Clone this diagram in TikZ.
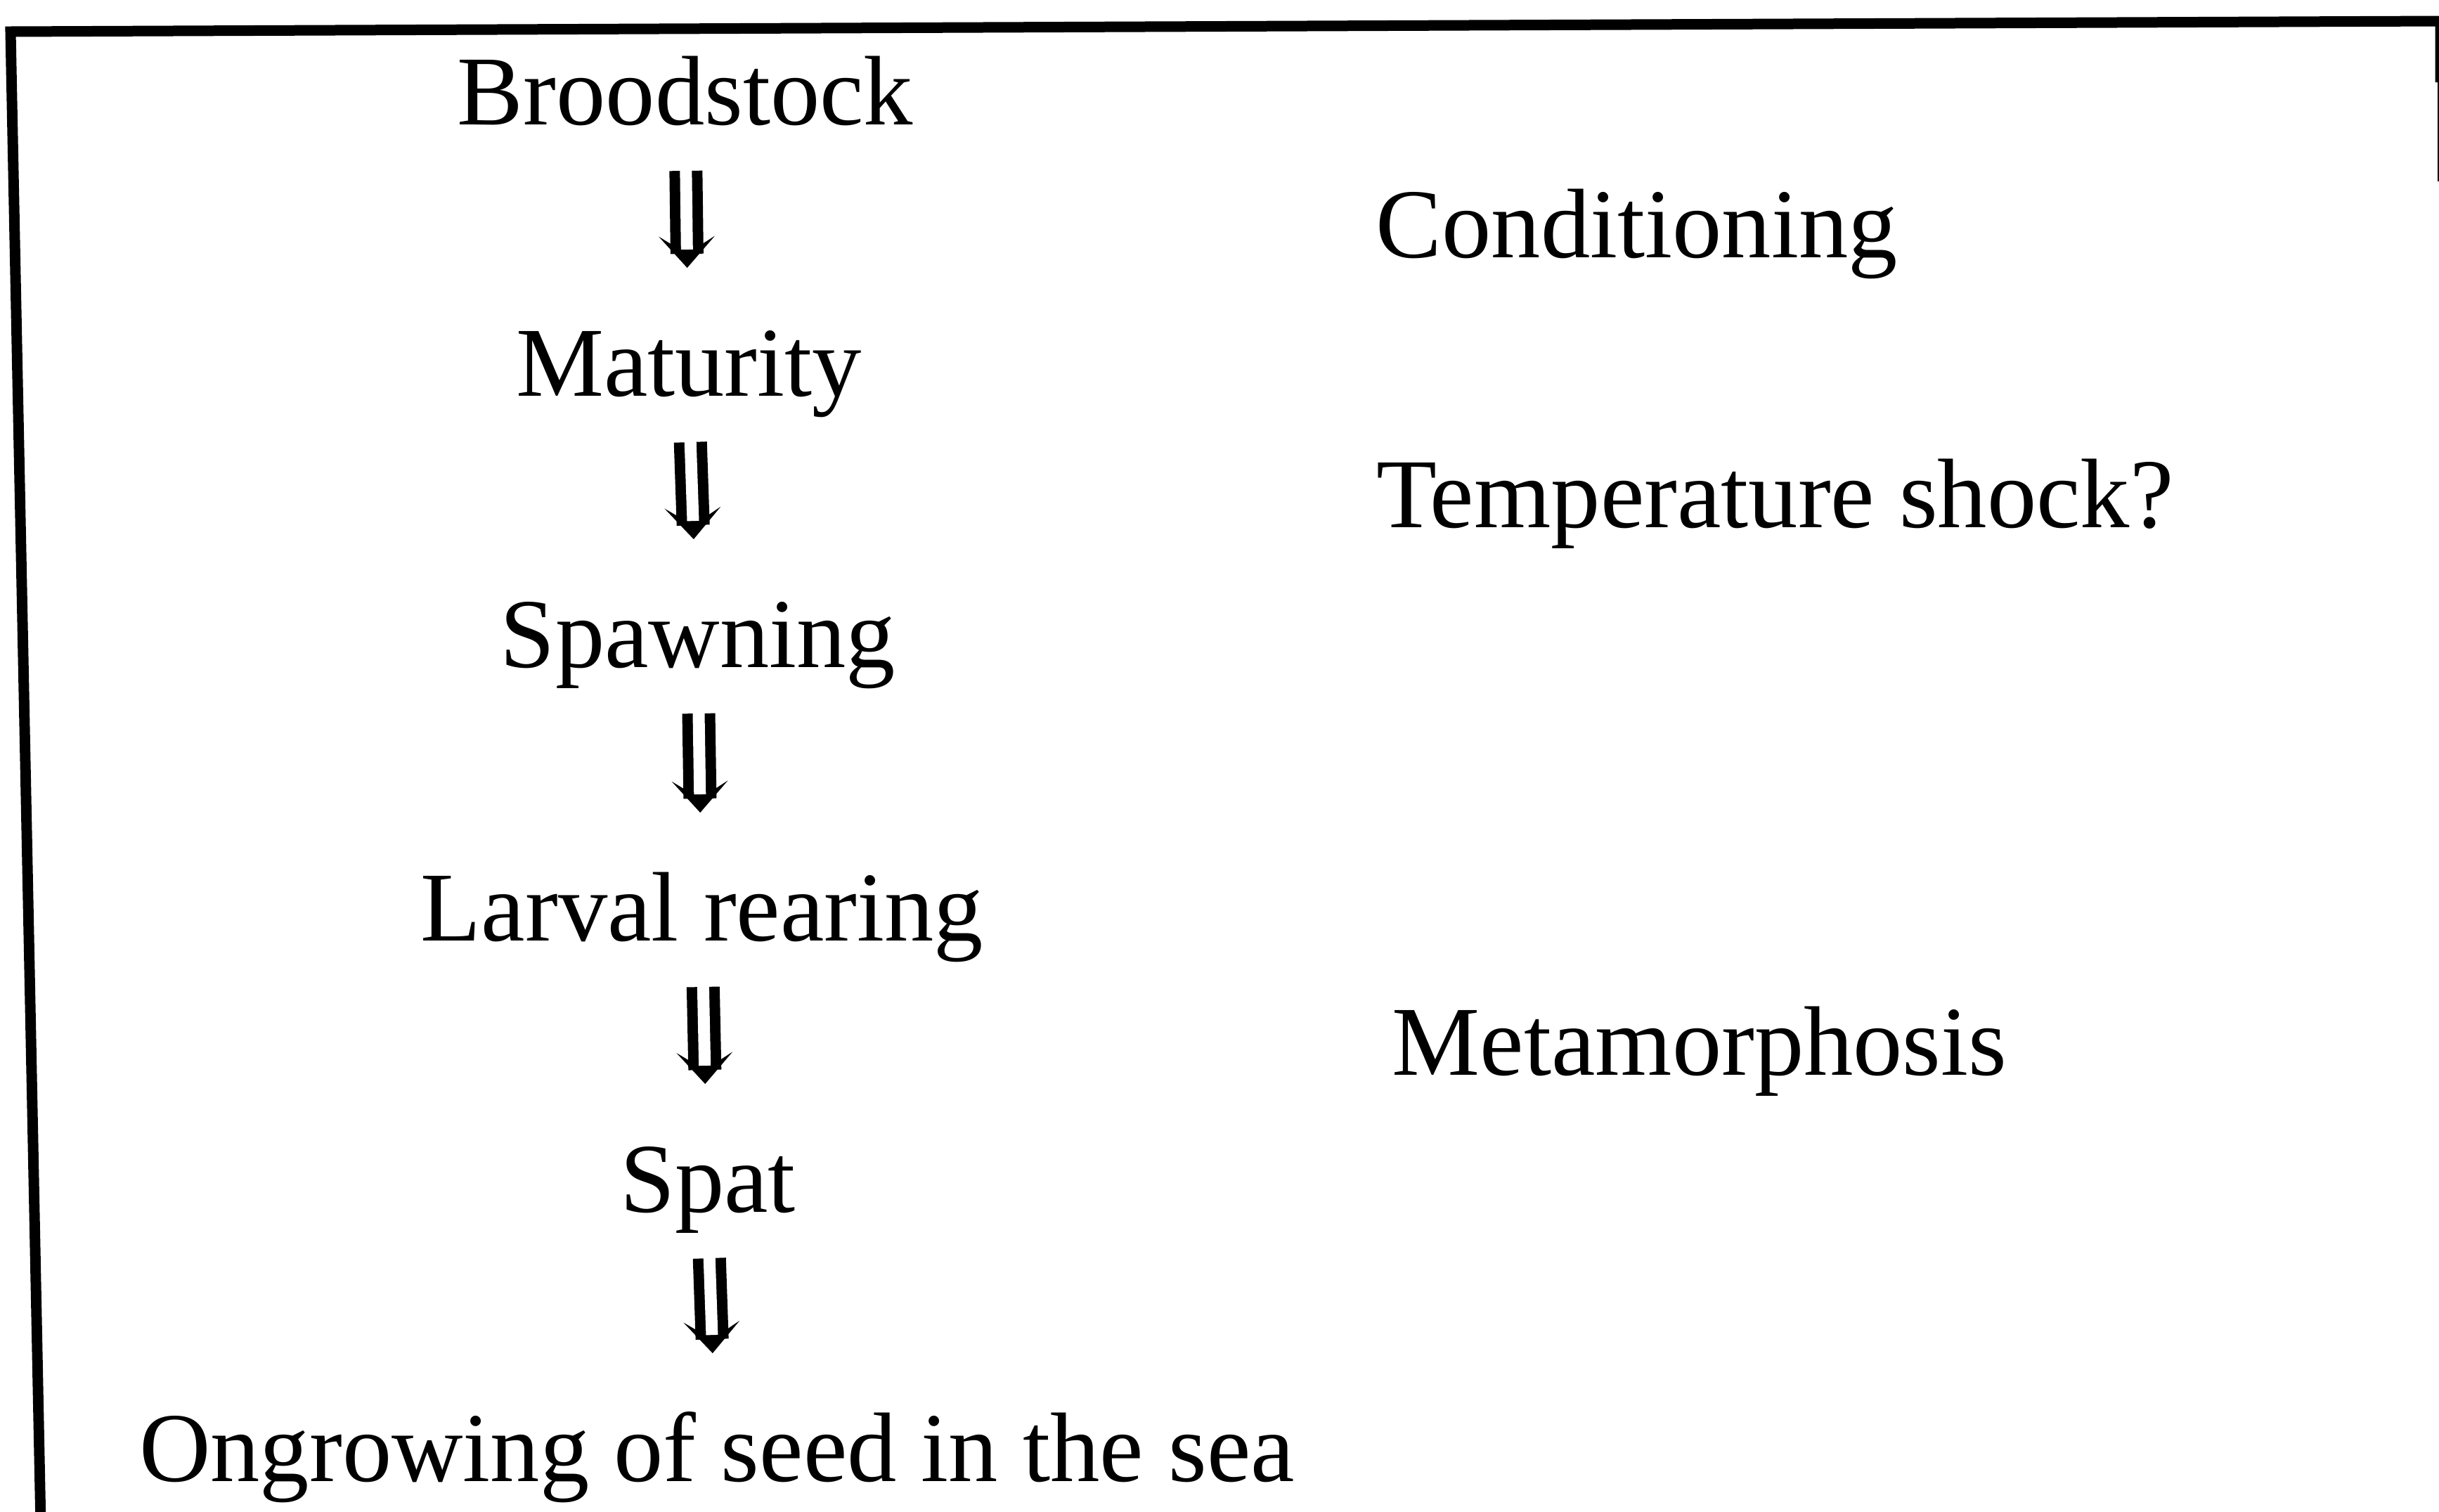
\documentclass[tikz,border=0pt]{standalone}
\usepackage{fontspec}
\setmainfont{Liberation Serif}
\usetikzlibrary{arrows.meta}

\begin{document}
\begin{tikzpicture}[
  lbl/.style={inner sep=0pt,anchor=base,font=\fontsize{40}{48}\selectfont},
  note/.style={lbl,anchor=base west},
  dblarrow/.style={line width=0.47cm,
    -{Stealth[length=0.45cm,width=0.8cm,inset=0.25cm,line width=0pt]},
    shorten <=0.66cm,shorten >=1.82cm,
    postaction={draw=white,line width=0.17cm,-,shorten <=0.6cm,shorten >=2.08cm}},
  frame/.style={line width=0.15cm,line join=miter}]
\useasboundingbox (0,0) rectangle (34.7,-21.5);
\draw[frame] (0.58,-21.7) -- (0.15,-0.45) -- (34.72,-0.30) -- (34.72,-1.17);
\draw[line width=0.03cm] (34.69,-1.17) -- (34.69,-2.58);
\node[lbl] (brood) at (9.75,-1.77) {Broodstock};
\node[lbl] (mat) at (9.80,-5.63) {Maturity};
\node[lbl] (spawn) at (9.93,-9.49) {Spawning};
\node[lbl] (larv) at (9.99,-13.38) {Larval rearing};
\node[lbl] (spat) at (10.07,-17.24) {Spat};
\node[lbl] (ongrow) at (10.20,-21.07) {Ongrowing of seed in the sea};
\node[note] (cond) at (19.57,-3.66) {Conditioning};
\node[note] (temp) at (19.58,-7.50) {Temperature shock?};
\node[note] (meta) at (19.80,-15.29) {Metamorphosis};
\foreach \a/\b in {brood/mat,mat/spawn,spawn/larv,larv/spat,spat/ongrow}
  \draw[dblarrow] (\a.base) -- (\b.base);
\end{tikzpicture}
\end{document}
